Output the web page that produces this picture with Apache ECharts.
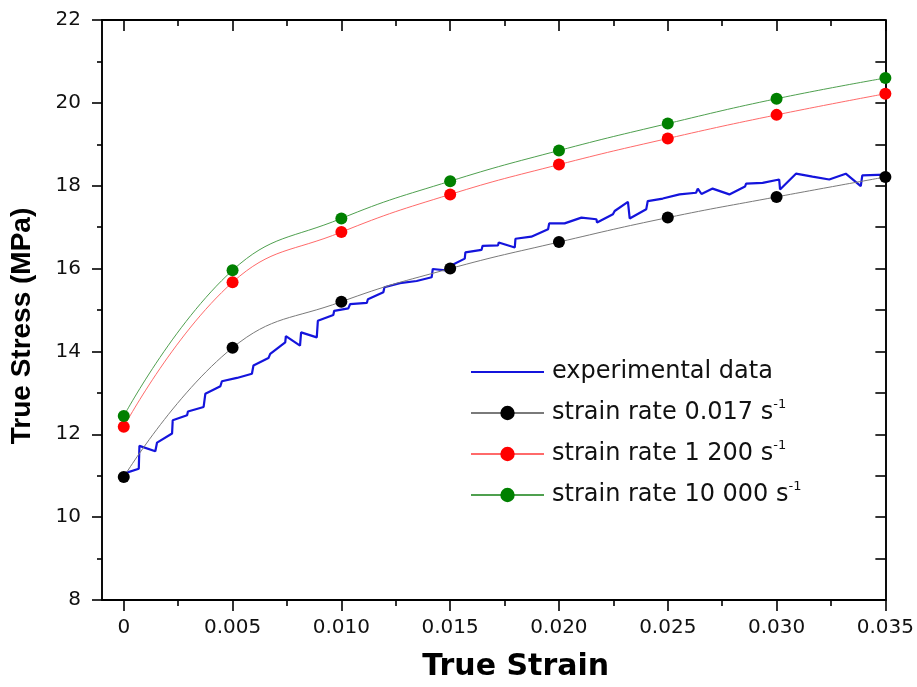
<!DOCTYPE html>
<html><head><meta charset="utf-8">
<script src="https://cdn.jsdelivr.net/npm/echarts@6/dist/echarts.min.js"></script>
<style>html,body{margin:0;padding:0;background:#fff}#c{width:917px;height:687px}</style>
</head><body><div id="c"></div>
<script>
// ---- data ----
const modelStrain = [0, 0.005, 0.010, 0.015, 0.020, 0.025, 0.030, 0.035];
const rate0017 = [10.97, 14.09, 15.20, 16.00, 16.64, 17.23, 17.73, 18.21];
const rate1200 = [12.18, 15.67, 16.88, 17.79, 18.51, 19.14, 19.71, 20.22];
const rate10000 = [12.44, 15.96, 17.21, 18.11, 18.85, 19.50, 20.10, 20.60];

const expStrain = [0, 0.00069, 0.00072, 0.00145, 0.00153, 0.00222, 0.00225, 0.00291, 0.00295, 0.00367,
  0.00375, 0.00444, 0.00451, 0.0052, 0.00589, 0.00596, 0.00665, 0.00673, 0.00742, 0.00745,
  0.0081, 0.00815, 0.00887, 0.00892, 0.00963, 0.00967, 0.01032, 0.0104, 0.01117, 0.01122,
  0.01193, 0.01198, 0.01269, 0.01346, 0.01415, 0.0142, 0.01491, 0.01495, 0.01567, 0.0157,
  0.01644, 0.01649, 0.0172, 0.01723, 0.01797, 0.018, 0.01873, 0.0195, 0.01955, 0.02026,
  0.02103, 0.02172, 0.02175, 0.02248, 0.02256, 0.02317, 0.02325, 0.02401, 0.02408, 0.02477,
  0.02554, 0.0263, 0.02638, 0.02655, 0.02706, 0.02783, 0.02855, 0.0286, 0.02936, 0.03012,
  0.03016, 0.03089, 0.03165, 0.03242, 0.03318, 0.03387, 0.03394, 0.035];
const expStress = [11.05, 11.17, 11.72, 11.59, 11.80, 12.02, 12.34, 12.46, 12.55, 12.66,
  12.98, 13.16, 13.28, 13.36, 13.46, 13.66, 13.84, 13.94, 14.22, 14.37,
  14.14, 14.46, 14.34, 14.74, 14.88, 14.98, 15.04, 15.14, 15.17, 15.26,
  15.43, 15.55, 15.65, 15.70, 15.79, 15.99, 15.95, 16.05, 16.24, 16.39,
  16.45, 16.55, 16.56, 16.63, 16.51, 16.72, 16.77, 16.95, 17.09, 17.09,
  17.23, 17.19, 17.11, 17.31, 17.39, 17.61, 17.21, 17.43, 17.63, 17.69,
  17.79, 17.83, 17.93, 17.80, 17.93, 17.79, 17.98, 18.05, 18.07, 18.15,
  17.91, 18.29, 18.22, 18.15, 18.29, 17.99, 18.25, 18.27];

const xMajor = [0, 0.005, 0.010, 0.015, 0.020, 0.025, 0.030, 0.035];
const xMinor = [0.0025, 0.0075, 0.0125, 0.0175, 0.0225, 0.0275, 0.0325];
const xTickLabels = ['0', '0.005', '0.010', '0.015', '0.020', '0.025', '0.030', '0.035'];

const names = ['experimental data', 'strain rate 0.017 s-1', 'strain rate 1 200 s-1', 'strain rate 10 000 s-1'];

// ---- chart ----
const FONT = '"DejaVu Sans", sans-serif';
const FONT_Y = '"Liberation Sans", Arial, sans-serif';
const chart = echarts.init(document.getElementById('c'));
const pair = (xs, ys) => xs.map((x, i) => [x, ys[i]]);
const axisLineStyle = { show: true, onZero: false, lineStyle: { color: '#000', width: 1.9 } };
const noLine = { show: false, onZero: false };

function xAx(pos, values, len, inside, withLine, withLabel, extra) {
  return Object.assign({
    type: 'value', position: pos, min: -0.001, max: 0.035, gridIndex: 0,
    axisLine: withLine ? axisLineStyle : noLine,
    axisTick: { show: true, inside: inside, length: len, customValues: values, lineStyle: { color: '#000', width: 1.6 } },
    axisLabel: withLabel ? {
      show: true, customValues: xMajor, margin: 18, color: '#111', fontSize: 20, fontFamily: FONT,
      formatter: v => { const i = xMajor.findIndex(m => Math.abs(m - v) < 1e-9); return i >= 0 ? xTickLabels[i] : ''; }
    } : { show: false },
    splitLine: { show: false }
  }, extra || {});
}

chart.setOption({
  animation: false,
  backgroundColor: '#fff',
  grid: { left: 101, right: 31, top: 20, bottom: 85, containLabel: false },
  xAxis: [
    xAx('bottom', xMajor, 11, false, true, true, {
      name: 'True Strain', nameLocation: 'middle', nameGap: 52,
      nameTextStyle: { fontSize: 30, fontWeight: 'bold', fontFamily: FONT, color: '#000', padding: [0, 0, 0, 44] }
    }),
    xAx('bottom', xMinor, 6, false, false, false),
    xAx('top', xMajor, 11, true, true, false),
    xAx('top', xMinor, 6, true, false, false)
  ],
  yAxis: [
    {
      type: 'value', position: 'left', min: 8, max: 22, interval: 2,
      axisLine: axisLineStyle,
      axisTick: { show: true, inside: false, length: 10, lineStyle: { color: '#000', width: 1.6 } },
      minorTick: { show: true, splitNumber: 2, length: 5, lineStyle: { color: '#000', width: 1.6 } },
      axisLabel: { margin: 21, color: '#111', fontSize: 20, fontFamily: FONT },
      splitLine: { show: false },
      name: 'True Stress (MPa)', nameLocation: 'middle', nameGap: 66,
      nameTextStyle: { fontSize: 28, fontWeight: 'bold', fontFamily: FONT_Y, color: '#000', padding: [0, 32, 0, 0] }
    },
    {
      type: 'value', position: 'right', min: 8, max: 22, interval: 2,
      axisLine: axisLineStyle,
      axisTick: { show: true, inside: true, length: 10, lineStyle: { color: '#000', width: 1.6 } },
      minorTick: { show: true, splitNumber: 2, length: 10, lineStyle: { color: '#000', width: 1.6 } },
      axisLabel: { show: false },
      splitLine: { show: false }
    }
  ],
  legend: {
    orient: 'vertical', left: 470, top: 357, itemGap: 11, padding: 0,
    itemWidth: 73, itemHeight: 18,
    data: names,
    formatter: n => {
      if (n.endsWith(' s-1')) return '{a|' + n.slice(0, -2) + '}{b|-1}';
      return '{a|' + n + '}';
    },
    textStyle: {
      fontFamily: FONT, color: '#111', fontSize: 24, lineHeight: 30, padding: [0, 0, 0, 3],
      rich: {
        a: { fontFamily: FONT, color: '#111', fontSize: 24, lineHeight: 30 },
        b: { fontFamily: FONT, color: '#111', fontSize: 13, lineHeight: 16, verticalAlign: 'top' }
      }
    }
  },
  series: [
    {
      name: names[0], type: 'line', xAxisIndex: 0, yAxisIndex: 0,
      data: pair(expStrain, expStress), symbol: 'none', z: 3,
      lineStyle: { color: '#1414dc', width: 2.2 }, itemStyle: { color: '#1414dc', opacity: 0 }
    },
    {
      name: names[1], type: 'line', xAxisIndex: 0, yAxisIndex: 0,
      data: pair(modelStrain, rate0017), smooth: 0.45, symbol: 'circle', symbolSize: 12, z: 4,
      lineStyle: { color: '#7a7a7a', width: 1 }, itemStyle: { color: '#000' }
    },
    {
      name: names[2], type: 'line', xAxisIndex: 0, yAxisIndex: 0,
      data: pair(modelStrain, rate1200), smooth: 0.45, symbol: 'circle', symbolSize: 12, z: 4,
      lineStyle: { color: '#ff6a6a', width: 1 }, itemStyle: { color: '#ff0000' }
    },
    {
      name: names[3], type: 'line', xAxisIndex: 0, yAxisIndex: 0,
      data: pair(modelStrain, rate10000), smooth: 0.45, symbol: 'circle', symbolSize: 12, z: 4,
      lineStyle: { color: '#4fa04f', width: 1 }, itemStyle: { color: '#008000' }
    }
  ]
});
</script>
</body></html>
